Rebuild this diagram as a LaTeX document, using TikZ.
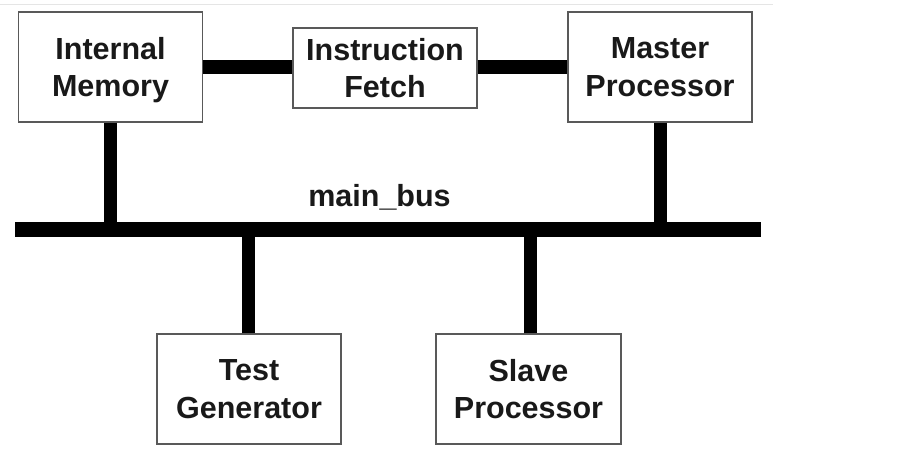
\documentclass[tikz,border=0pt]{standalone}
\usepackage{fontspec}
\setmainfont{Liberation Sans}
\begin{document}
\begin{tikzpicture}[x=1pt,y=-1pt,
  blockbox/.style={draw=black!65, line width=1.3pt, fill=white, minimum width=184pt,
    inner sep=0pt, align=center, text=black!90, text depth=0pt,
    font=\fontsize{30.5}{37.5}\selectfont\bfseries},
  tallbox/.style={blockbox, minimum height=110pt},
  shortbox/.style={blockbox, minimum height=80pt},
  wire/.style={line width=13pt, black},
  buswire/.style={line width=15pt, black}]
\useasboundingbox (0,0) rectangle (907,469);
\fill[white] (0,0) rectangle (907,469);
\coordinate (topL) at (0,4);
\coordinate (topR) at (773,4);
\draw[black!10, line width=1pt] (topL) -- (topR);

\node[tallbox] (im) at (110.5,67) {Internal\\Memory};
\node[shortbox] (ifetch) at (385,68) {Instruction\\Fetch};
\node[tallbox] (mp) at (660,67) {Master\\Processor};
\node[tallbox] (tg) at (249,389) {Test\\Generator};
\node[tallbox, minimum width=185pt] (sp) at (528.5,389) {Slave\\Processor};

\coordinate (busL) at (15,229.5);
\coordinate (busR) at (761,229.5);
\node[font=\fontsize{30.5}{36}\selectfont\bfseries, text=black!90, anchor=base, inner sep=0pt] (buslabel) at (379.5,206) {main\_bus};

\draw[wire, line width=14pt] (im.east |- 0,67) -- (ifetch.west |- 0,67);
\draw[wire, line width=14pt] (ifetch.east |- 0,67) -- (mp.west |- 0,67);

\draw[wire] (im.south -| 110,0) -- (110,229.5);
\draw[wire] (mp.south) -- (mp.south |- busL);
\draw[wire] (tg.north -| 248,0) -- (248,229.5);
\draw[wire] (sp.north -| 530,0) -- (530,229.5);
\draw[buswire] (busL) -- (busR);
\end{tikzpicture}
\end{document}
